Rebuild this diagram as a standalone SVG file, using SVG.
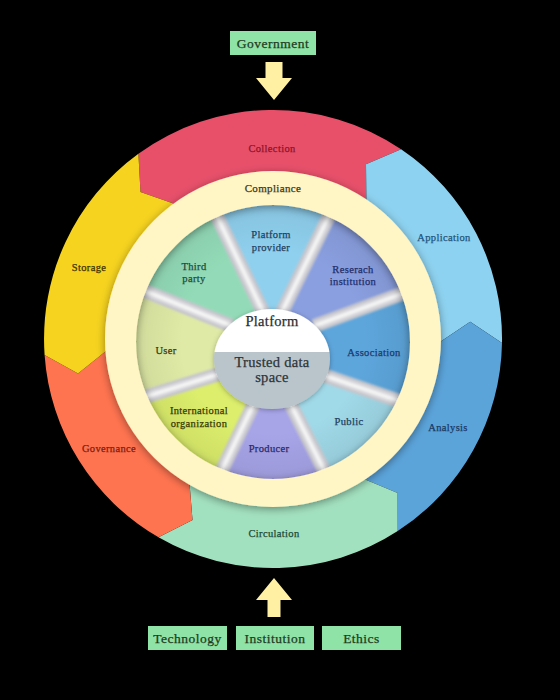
<svg xmlns="http://www.w3.org/2000/svg" width="560" height="700" viewBox="0 0 560 700">
  <defs>
    <style>
      .t { font-family: "Liberation Serif", "Times New Roman", serif; text-anchor: middle; stroke-width: 0.25px; }
      .s10 { font-size: 10.5px; letter-spacing: 0.35px; }
      .s11 { font-size: 11px; letter-spacing: 0.35px; }
      .s13 { font-size: 13.5px; letter-spacing: 0.5px; }
      .s14 { font-size: 14.5px; letter-spacing: 0.3px; }
      .box { fill: #8FE3A6; }
      .boxt { fill: #1E3B22; stroke: #1E3B22; }
      .arrow { fill: #FFF0A3; }
      .spk1 { stroke: #C6C6CC; stroke-width: 14; fill: none; }
      .spk2 { stroke: #DDDDE1; stroke-width: 8; fill: none; }
      .spk3 { stroke: #F6F6F6; stroke-width: 3; fill: none; }
    </style>
    <filter id="sh" x="-20%" y="-20%" width="140%" height="140%">
      <feDropShadow dx="0" dy="2" stdDeviation="4" flood-color="#000" flood-opacity="0.4"/>
    </filter>
    <filter id="sh2" x="-20%" y="-20%" width="140%" height="140%">
      <feDropShadow dx="0" dy="1" stdDeviation="2.5" flood-color="#000" flood-opacity="0.3"/>
    </filter>
    <filter id="soft" x="-10%" y="-10%" width="120%" height="120%">
      <feGaussianBlur stdDeviation="1.1"/>
    </filter>
    <radialGradient id="vign" cx="273" cy="342" r="140" gradientUnits="userSpaceOnUse">
      <stop offset="0.65" stop-color="#000" stop-opacity="0"/>
      <stop offset="1" stop-color="#000" stop-opacity="0.07"/>
    </radialGradient>
    <linearGradient id="hubg" x1="0" y1="0" x2="0" y2="1">
      <stop offset="0.43" stop-color="#FFFFFF"/>
      <stop offset="0.43" stop-color="#B9C5CB"/>
    </linearGradient>
  </defs>

  <rect x="0" y="0" width="560" height="700" fill="#000"/>

  <!-- Outer ring segments -->
  <g id="collection">
    <path d="M 138.4 153.7 A 229 229 0 0 1 401.1 149.2 L 366.0 164.2 L 366.4 200.6 A 167 167 0 0 0 174.8 203.9 L 140.5 191.9 Z" fill="#E8506A"/>
    <text class="t s10" x="272" y="151.5" fill="#8E1428" stroke="#8E1428">Collection</text>
  </g>
  <g id="application">
    <path d="M 401.1 149.2 A 229 229 0 0 1 502.0 343.0 L 470.2 321.7 L 440.0 341.9 A 167 167 0 0 0 366.4 200.6 L 366.0 164.2 Z" fill="#8DD2F0"/>
    <text class="t s10" x="444" y="240.5" fill="#1E557F" stroke="#1E557F">Application</text>
  </g>
  <g id="analysis">
    <path d="M 502.0 343.0 A 229 229 0 0 1 397.7 531.1 L 397.6 492.9 L 364.0 479.1 A 167 167 0 0 0 440.0 341.9 L 470.2 321.7 Z" fill="#5BA4DA"/>
    <text class="t s10" x="448" y="430.5" fill="#1A3A63" stroke="#1A3A63">Analysis</text>
  </g>
  <g id="circulation">
    <path d="M 397.7 531.1 A 229 229 0 0 1 158.5 537.3 L 192.5 519.9 L 189.5 483.6 A 167 167 0 0 0 364.0 479.1 L 397.6 492.9 Z" fill="#A2E1BF"/>
    <text class="t s10" x="274" y="536.5" fill="#1E4A35" stroke="#1E4A35">Circulation</text>
  </g>
  <g id="governance">
    <path d="M 158.5 537.3 A 229 229 0 0 1 44.6 355.0 L 78.0 373.4 L 106.4 350.7 A 167 167 0 0 0 189.5 483.6 L 192.5 519.9 Z" fill="#FF7450"/>
    <text class="t s10" x="109" y="451.5" fill="#7E1C10" stroke="#7E1C10">Governance</text>
  </g>
  <g id="storage">
    <path d="M 44.6 355.0 A 229 229 0 0 1 138.4 153.7 L 140.5 191.9 L 174.8 203.9 A 167 167 0 0 0 106.4 350.7 L 78.0 373.4 Z" fill="#F6D31F"/>
    <text class="t s10" x="89" y="270.5" fill="#3C3100" stroke="#3C3100">Storage</text>
  </g>

  <!-- Inner sectors -->
  <g id="platform-provider">
    <path d="M 266 318 L 207.8 197.2 L 272.4 180 L 337.2 199.4 L 279 318 L 272 352 Z" fill="#8FD0EE"/>
  </g>
  <g id="research-institution">
    <path d="M 279 318 L 337.2 199.4 L 391.8 231.9 L 423.3 285.9 L 314 326 L 272 352 Z" fill="#8A9FE0"/>
  </g>
  <g id="association">
    <path d="M 314 326 L 423.3 285.9 L 434.9 347.3 L 419.3 407.9 L 314 372 L 272 352 Z" fill="#5DA6DC"/>
  </g>
  <g id="public">
    <path d="M 314 372 L 419.3 407.9 L 386.5 457.6 L 331.4 484.7 L 286 395 L 272 352 Z" fill="#A0D9E8"/>
  </g>
  <g id="producer">
    <path d="M 286 395 L 331.4 484.7 L 273.1 504 L 214.8 484.8 L 258 395 L 272 352 Z" fill="#A7A4E8"/>
  </g>
  <g id="international-organization">
    <path d="M 258 395 L 214.8 484.8 L 157.5 455.6 L 123.5 403.5 L 232 370 L 272 352 Z" fill="#DCEE6C"/>
  </g>
  <g id="user">
    <path d="M 232 370 L 123.5 403.5 L 111 343.1 L 123.8 282.5 L 232 326 L 272 352 Z" fill="#DFEAA6"/>
  </g>
  <g id="third-party">
    <path d="M 232 326 L 123.8 282.5 L 155.7 230.3 L 207.8 197.2 L 266 318 L 272 352 Z" fill="#93DBB8"/>
  </g>
  <circle cx="273" cy="342" r="140" fill="url(#vign)"/>

  <!-- Spokes -->
  <g id="spokes" filter="url(#soft)">
    <path class="spk1" d="M 207.8 197.2 L 266 318 M 337.2 199.4 L 279 318 M 423.3 285.9 L 314 326 M 419.3 407.9 L 314 372 M 331.4 484.7 L 286 395 M 214.8 484.8 L 258 395 M 123.5 403.5 L 232 370 M 123.8 282.5 L 232 326"/>
    <path class="spk2" d="M 207.8 197.2 L 266 318 M 337.2 199.4 L 279 318 M 423.3 285.9 L 314 326 M 419.3 407.9 L 314 372 M 331.4 484.7 L 286 395 M 214.8 484.8 L 258 395 M 123.5 403.5 L 232 370 M 123.8 282.5 L 232 326"/>
    <path class="spk3" d="M 207.8 197.2 L 266 318 M 337.2 199.4 L 279 318 M 423.3 285.9 L 314 326 M 419.3 407.9 L 314 372 M 331.4 484.7 L 286 395 M 214.8 484.8 L 258 395 M 123.5 403.5 L 232 370 M 123.8 282.5 L 232 326"/>
  </g>

  <!-- Inner sector labels -->
  <g id="inner-labels">
    <text class="t s10" x="271" y="238" fill="#1F4263" stroke="#1F4263">Platform</text>
    <text class="t s10" x="271" y="250.5" fill="#1F4263" stroke="#1F4263">provider</text>
    <text class="t s10" x="353" y="272.5" fill="#1F2E6E" stroke="#1F2E6E">Reserach</text>
    <text class="t s10" x="353" y="285" fill="#1F2E6E" stroke="#1F2E6E">institution</text>
    <text class="t s10" x="374" y="355.5" fill="#1C3A6C" stroke="#1C3A6C">Association</text>
    <text class="t s10" x="349" y="424.5" fill="#1F4060" stroke="#1F4060">Public</text>
    <text class="t s10" x="269" y="451.5" fill="#2A2A6A" stroke="#2A2A6A">Producer</text>
    <text class="t s10" x="199" y="414" fill="#3A3A05" stroke="#3A3A05">International</text>
    <text class="t s10" x="199" y="426.5" fill="#3A3A05" stroke="#3A3A05">organization</text>
    <text class="t s10" x="166" y="353.5" fill="#3A3A12" stroke="#3A3A12">User</text>
    <text class="t s10" x="194" y="269.5" fill="#1E4D3A" stroke="#1E4D3A">Third</text>
    <text class="t s10" x="194" y="282" fill="#1E4D3A" stroke="#1E4D3A">party</text>
  </g>

  <!-- Compliance ring -->
  <g id="compliance">
    <path d="M 273 171 A 168 168 0 1 1 272.99 171 Z M 273 205 A 137 137 0 1 0 273.01 205 Z" fill="#FFF5C5" fill-rule="evenodd" filter="url(#sh)"/>
    <text class="t s11" x="273" y="191.5" fill="#3A3820" stroke="#3A3820">Compliance</text>
  </g>

  <!-- Hub -->
  <g id="platform-hub">
    <ellipse cx="272" cy="359" rx="58" ry="50" fill="url(#hubg)" filter="url(#sh2)"/>
    <text class="t s14" x="272" y="326" fill="#2E2E2E" stroke="#2E2E2E">Platform</text>
    <text class="t s14" x="272" y="366.5" fill="#2E3438" stroke="#2E3438">Trusted data</text>
    <text class="t s14" x="272" y="381.5" fill="#2E3438" stroke="#2E3438">space</text>
  </g>

  <!-- External boxes -->
  <g id="government">
    <rect class="box" x="230" y="31" width="86" height="24"/>
    <text class="t s13 boxt" x="273" y="48">Government</text>
  </g>
  <g id="technology">
    <rect class="box" x="148" y="626" width="79" height="24"/>
    <text class="t s13 boxt" x="187.5" y="642.5">Technology</text>
  </g>
  <g id="institution">
    <rect class="box" x="236" y="626" width="78" height="24"/>
    <text class="t s13 boxt" x="275" y="642.5">Institution</text>
  </g>
  <g id="ethics">
    <rect class="box" x="322" y="626" width="79" height="24"/>
    <text class="t s13 boxt" x="361.5" y="642.5">Ethics</text>
  </g>

  <!-- Connectors -->
  <g id="connectors">
    <polygon class="arrow" points="265.5,62 282.5,62 282.5,78 292,78 274,100 256,78 265.5,78"/>
    <polygon class="arrow" points="274,578 292,600 280.5,600 280.5,617 267.5,617 267.5,600 256,600"/>
  </g>
</svg>
